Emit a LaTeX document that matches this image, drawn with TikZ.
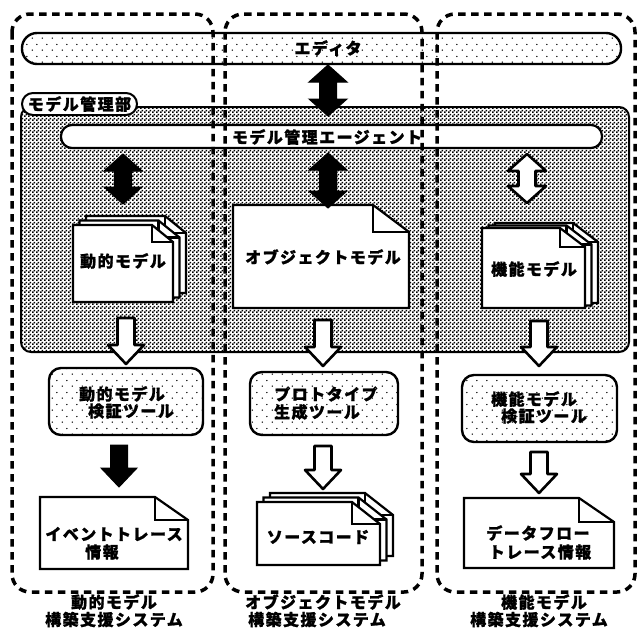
\documentclass[tikz,border=0pt]{standalone}
\usepackage{fontspec}
\newfontfamily\jp{Noto Sans CJK JP}[LetterSpace=9, BoldFeatures={FakeBold=1.2}]
\usetikzlibrary{patterns.meta,calc}

\tikzdeclarepattern{
  name=checkerfill,
  type=uncolored,
  bounding box={(0pt,0pt) and (4pt,4pt)},
  tile size={(4pt,4pt)},
  code={\fill (0pt,0pt) rectangle (2.1pt,2.1pt); \fill (2pt,2pt) rectangle (4pt,4pt);}
}
\tikzdeclarepattern{
  name=sparsedots,
  type=uncolored,
  bounding box={(0pt,0pt) and (10pt,12pt)},
  tile size={(10pt,12pt)},
  code={\fill (2.5pt,3pt) circle (0.8pt); \fill (7.5pt,9pt) circle (0.8pt);}
}

\newcommand\docshape[6]{%
  \draw[docpage] (#1,#2) -- (#3-#5,#2) -- (#3,#2+#6) -- (#3,#4) -- (#1,#4) -- cycle;
  \draw[docpage, fill=none] (#3-#5,#2) -- (#3-#5,#2+#6) -- (#3,#2+#6);}

\newcommand\blockdown[3]{%
  \path[#1] let \p1=(#2), \p2=(#3) in
    (\x1-8.5pt,\y1) -- (\x1+8.5pt,\y1) -- (\x1+8.5pt,\y2+19pt) -- (\x1+18pt,\y2+19pt)
    -- (\x1,\y2) -- (\x1-18pt,\y2+19pt) -- (\x1-8.5pt,\y2+19pt) -- cycle;}

\newcommand\blockdbl[3]{%
  \path[#1] let \p1=(#2), \p2=(#3) in
    (\x1,\y1) -- (\x1+19pt,\y1-17pt) -- (\x1+8.5pt,\y1-17pt) -- (\x1+8.5pt,\y2+17pt)
    -- (\x1+19pt,\y2+17pt) -- (\x1,\y2) -- (\x1-19pt,\y2+17pt) -- (\x1-8.5pt,\y2+17pt)
    -- (\x1-8.5pt,\y1-17pt) -- (\x1-19pt,\y1-17pt) -- cycle;}

\begin{document}
\begin{tikzpicture}[x=1pt,y=-1pt,line join=round,
  jt/.style={font=\jp\bfseries\fontsize{16}{18}\selectfont, inner sep=0pt},
  outl/.style={draw=black, line width=2.4pt},
  dotfill/.style={preaction={fill=white}, pattern=sparsedots},
  docpage/.style={fill=white, draw=black, line width=2.2pt, line join=miter},
  blackarrow/.style={fill=black, draw=black, line width=1pt, line join=miter},
  whitearrow/.style={fill=white, draw=black, line width=2.6pt, line join=round},
  colbox/.style={draw=black, line width=3.5pt, dash pattern=on 7.5pt off 5.5pt, rounded corners=18pt},
]
\useasboundingbox (0,0) rectangle (642,629);

% editor
\node[outl, dotfill, rounded corners=15pt, minimum width=599pt, minimum height=31pt, inner sep=0pt] (editor) at (321.5,48.5) {};
\node[jt] (editortxt) at (328,48) {エディタ};

% model management region
\node[outl, line width=2pt, preaction={fill=white}, pattern=checkerfill, rounded corners=10pt,
      minimum width=608pt, minimum height=245pt, inner sep=0pt] (region) at (325,229.5) {};
\node[outl, line width=2pt, fill=white, rounded corners=11pt, minimum width=115pt, minimum height=22pt,
      inner sep=0pt, jt] (tab) at (79.5,104) {モデル管理部};

% agent
\node[outl, line width=2.2pt, fill=white, rounded corners=11pt, minimum width=541pt, minimum height=23pt, inner sep=0pt] (agent) at (331.5,136.5) {};
\node[jt] (agenttxt) at (327,137) {モデル管理エージェント};

% documents in region
\docshape{86}{216}{186}{293}{21}{17}
\docshape{79.5}{220.5}{179.5}{297.5}{21}{17}
\docshape{73}{225}{173}{302}{21}{17}
\node[jt] (dm) at (123,261) {動的モデル};

\docshape{233}{205}{409}{308}{36}{27}
\node[jt] (om) at (323,257) {オブジェクトモデル};

\docshape{495}{223}{598}{303}{25}{19}
\docshape{488.5}{225.5}{591.5}{305.5}{25}{19}
\docshape{482}{228}{585}{308}{25}{19}
\node[jt] (fm) at (534,269) {機能モデル};

% tools
\node[outl, dotfill, rounded corners=12pt, minimum width=154pt, minimum height=67pt, inner sep=0pt] (dmtool) at (126,401.5) {};
\node[jt] (dmtool1) at (122,394) {動的モデル};
\node[jt] (dmtool2) at (131,411) {検証ツール};

\node[outl, dotfill, rounded corners=12pt, minimum width=148pt, minimum height=63pt, inner sep=0pt] (omtool) at (324,403.5) {};
\node[jt] (omtool1) at (326,394) {プロトタイプ};
\node[jt] (omtool2) at (317,412) {生成ツール};

\node[outl, dotfill, rounded corners=12pt, minimum width=155pt, minimum height=67pt, inner sep=0pt] (fmtool) at (539.5,408.5) {};
\node[jt] (fmtool1) at (534,399) {機能モデル};
\node[jt] (fmtool2) at (544,416) {検証ツール};

% output documents
\docshape{40}{497}{188}{569}{33}{23}
\node[jt] (ev1) at (114,534) {イベントトレース};
\node[jt] (ev2) at (102,552) {情報};

\docshape{270}{493}{393}{556}{28}{22}
\docshape{263.5}{497.5}{386.5}{560.5}{28}{22}
\docshape{257}{502}{380}{565}{28}{22}
\node[jt] (src) at (318,537) {ソースコード};

\docshape{464}{498}{614}{568}{35}{24}
\node[jt] (df1) at (538,533) {データフロー};
\node[jt] (df2) at (540,552) {トレース情報};

% arrows
\coordinate (a0t) at (328,65);  \coordinate (a0b) at (328,116);
\coordinate (a1t) at (123,154); \coordinate (a1b) at (123,204);
\coordinate (a2t) at (328,153); \coordinate (a2b) at (328,208);
\coordinate (a3t) at (527,154); \coordinate (a3b) at (527,203);
\coordinate (a4t) at (126,318); \coordinate (a4b) at (126,364);
\coordinate (a5t) at (323,320); \coordinate (a5b) at (323,366);
\coordinate (a6t) at (539,321); \coordinate (a6b) at (539,366);
\coordinate (a7t) at (119,445); \coordinate (a7b) at (119,487);
\coordinate (a8t) at (323,446); \coordinate (a8b) at (323,489);
\coordinate (a9t) at (539,452); \coordinate (a9b) at (539,493);

\blockdbl{blackarrow}{a0t}{a0b}
\blockdbl{blackarrow}{a1t}{a1b}
\blockdbl{blackarrow}{a2t}{a2b}
\blockdbl{whitearrow}{a3t}{a3b}
\blockdown{whitearrow}{a4t}{a4b}
\blockdown{whitearrow}{a5t}{a5b}
\blockdown{whitearrow}{a6t}{a6b}
\blockdown{blackarrow}{a7t}{a7b}
\blockdown{whitearrow}{a8t}{a8b}
\blockdown{whitearrow}{a9t}{a9b}

% column boxes
\draw[colbox] (12,14) rectangle (213,592);
\draw[colbox] (225,14) rectangle (422,592);
\draw[colbox] (437,14) rectangle (635,592);

% labels
\node[jt] (l1a) at (114,602) {動的モデル};
\node[jt] (l1b) at (114,619.5) {構築支援システム};
\node[jt] (l2a) at (323,602) {オブジェクトモデル};
\node[jt] (l2b) at (317,619.5) {構築支援システム};
\node[jt] (l3a) at (544,602) {機能モデル};
\node[jt] (l3b) at (539,619.5) {構築支援システム};
\end{tikzpicture}
\end{document}
